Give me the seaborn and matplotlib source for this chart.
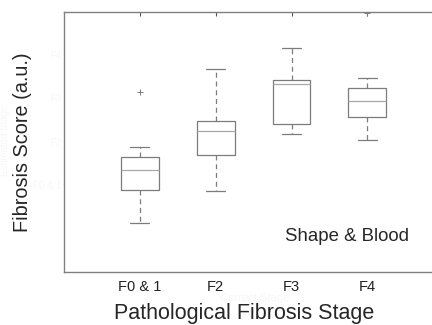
import pandas as pd
import matplotlib
matplotlib.use("Agg")
import matplotlib.pyplot as plt
import seaborn as sns

# five-number summaries, one entry per stage
stages = ["F0 & 1", "F2", "F3", "F4"]
lower_whisker = [1.13, 1.87, 3.17, 3.05]
q1 = [1.90, 2.69, 3.41, 3.57]
median = [2.35, 3.24, 4.33, 3.94]
q3 = [2.66, 3.49, 4.43, 4.24]
upper_whisker = [2.89, 4.67, 5.16, 4.48]

outlier_stage = ["F0 & 1", "F4"]
outlier_score = [4.14, 5.97]

ghost_ticks = ["", "F0 & 1", "F2", "F3", "F4"]

sns.set_style("white")
plt.rcParams["font.family"] = ["Liberation Sans", "DejaVu Sans"]

rows = []
for i, s in enumerate(stages):
    for v in (lower_whisker[i], q1[i], median[i], q3[i], upper_whisker[i]):
        rows.append({"stage": s, "score": v})
df = pd.DataFrame(rows)

line = "#7c7c7c"
ghost = "#f7f7f7"
fig = plt.figure(figsize=(4.32, 3.25), dpi=100)
ax = fig.add_axes([0.148, 0.163, 0.878, 0.8015])

sns.boxplot(
    data=df, x="stage", y="score", order=stages, ax=ax,
    whis=(0, 100), width=0.5, fill=False, color=line, linewidth=0.9,
    whiskerprops={"linestyle": (0, (4, 3))},
    medianprops={"color": "#a8a8a8"},
)
sns.stripplot(
    x=outlier_stage, y=outlier_score, order=stages, ax=ax, jitter=False,
    marker="+", color=line, size=5, linewidth=0.7,
)

ax.set_xlim(-1, 4)
ax.set_ylim(0, 6)
ax.set_yticks([1, 2, 3, 4, 5])
ax.set_yticklabels(ghost_ticks, color=ghost, fontsize=7)
ax.set_xticks(range(len(stages)))
ax.set_xticklabels(stages, fontsize=10.5, color="#222222")
ax.tick_params(direction="in", length=3, width=0.8, color="#555555",
               top=True, right=True)
ax.tick_params(axis="x", pad=6)
ax.tick_params(axis="y", pad=2)
for sp in ax.spines.values():
    sp.set_visible(True)
    sp.set_color("#808080")
    sp.set_linewidth(1.0)

ax.set_xlabel("Pathological Fibrosis Stage", fontsize=15.5)
ax.xaxis.set_label_coords(0.474, -0.118)
ax.set_ylabel("Fibrosis Score (a.u.)", fontsize=14.3)
ax.yaxis.set_label_coords(-0.085, 0.497)
ax.text(1.91, 0.81, "Shape & Blood", fontsize=13.4, ha="left", va="center")

# faint leftovers visible in the original image
fig.text(0.012, 0.57, "Estimated Stage", rotation=90, fontsize=7,
         color=ghost, ha="center", va="center")
fig.text(0.59, 0.082, "Correct Stage", fontsize=8, color=ghost,
         ha="center", va="center")

fig.savefig("out.png", dpi=100)
